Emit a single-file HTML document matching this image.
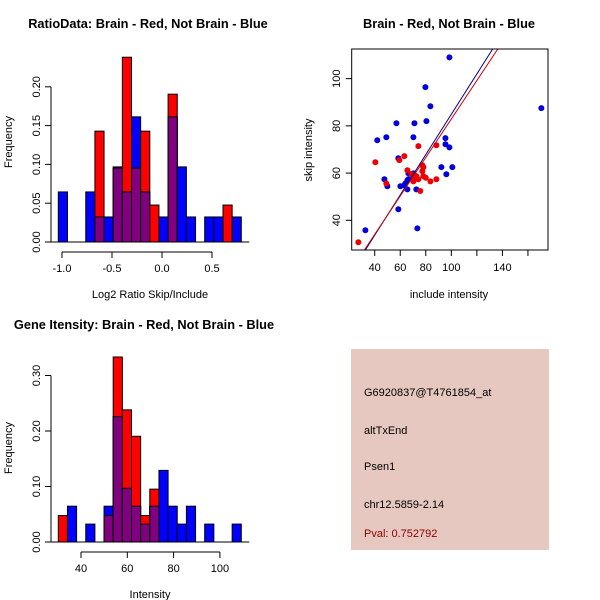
<!DOCTYPE html>
<html><head><meta charset="utf-8"><style>
body{margin:0;background:#fff}
svg{display:block;font-family:"Liberation Sans",sans-serif;font-size:11px}
.t{font-weight:bold;font-size:12.8px}
</style></head><body>
<svg id="s" width="600" height="600" xmlns="http://www.w3.org/2000/svg">
<text class="t" x="148" y="28" text-anchor="middle">RatioData: Brain - Red, Not Brain - Blue</text>
<text class="t" x="449" y="28" text-anchor="middle">Brain - Red, Not Brain - Blue</text>
<text class="t" x="144" y="329" text-anchor="middle">Gene Itensity: Brain - Red, Not Brain - Blue</text>
<text x="150" y="298" text-anchor="middle">Log2 Ratio Skip/Include</text>
<text x="449" y="298" text-anchor="middle">include intensity</text>
<text x="150" y="598" text-anchor="middle">Intensity</text>
<text transform="translate(12,142) rotate(-90)" text-anchor="middle">Frequency</text>
<text transform="translate(312,150) rotate(-90)" text-anchor="middle">skip intensity</text>
<text transform="translate(12,448) rotate(-90)" text-anchor="middle">Frequency</text>
<rect x="351" y="349" width="198" height="201" fill="#e6c8c0"/>
<text x="364" y="396">G6920837@T4761854_at</text>
<text x="364" y="434">altTxEnd</text>
<text x="364" y="470">Psen1</text>
<text x="364" y="508">chr12.5859-2.14</text>
<text x="364" y="537" fill="#8b0000">Pval: 0.752792</text>
</svg>
<script>
// Ratio histogram (counts per bin; blue n=31, red n=21)
const ratioBlue=[2,0,0,2,1,1,3,2,5,2,0,1,5,3,1,0,1,1,0,1];
const ratioRed=[0,0,0,0,3,0,2,5,2,3,1,0,4,0,0,0,0,0,1,0];
const ratioTicksX=[-1.0,-0.5,0.0,0.5];
const ratioTicksY=[0.00,0.05,0.10,0.15,0.20];
// Gene intensity histogram
const geneBlue=[0,2,0,1,0,2,7,3,2,1,2,4,2,1,2,0,1,0,0,1];
const geneRed=[1,0,0,0,0,1,7,5,4,1,2,0,0,0,0,0,0,0,0,0];
const geneTicksX=[40,60,80,100];
const geneTicksY=[0.00,0.10,0.20,0.30];
// Scatter
const blueX=[32.7,98.5,79.7,83.6,170.5,57,71.1,80.5,42,49.1,70.3,95.4,95.4,98.5,58.5,92.2,100.8,96.1,47.6,49.9,60.1,66.4,64,65.6,66.4,65.6,72.6,58.5,73.4,70.3,63.2];
const blueY=[35.8,109,96.4,88.3,87.5,81.1,81.1,82,73.9,75.2,75.2,74.8,72.2,70.9,66.3,62.5,62.5,59.5,57.4,54.4,54.4,59.9,55.6,56.9,57.4,53.1,53.1,44.7,36.6,59.9,54.8];
const redX=[27.2,40.5,59.3,63.2,74.2,88.3,49.1,65.6,68.8,77.3,77.3,78.1,78.1,72.6,74.2,70.3,75.7,83.6,88.3,71.8,80];
const redY=[30.7,64.6,65.5,67.2,71.4,71.8,55.6,61.2,59.5,60.8,63.3,62.5,58.7,58.7,57.4,56.5,52.4,56.5,57.4,57.8,58];
const blueFit=[-0.5,0.854]; // intercept, slope
const redFit=[1.4,0.815];
const scatterTicksX=[40,60,80,100,140];
const scatterTicksY=[40,60,80,100];

const S=document.getElementById('s');const NS='http://www.w3.org/2000/svg';
function el(t,a,p){const e=document.createElementNS(NS,t);for(const k in a)e.setAttribute(k,a[k]);(p||S).appendChild(e);return e;}
function txt(x,y,s,anchor,rot){const e=el('text',{x:x,y:y,'text-anchor':anchor});if(rot)e.setAttribute('transform','rotate(-90 '+x+' '+y+')');e.textContent=s;return e;}

function hist(blue,red,nb,nr,x0,bw,py0,yscale,ticksX,tx,ticksY,name,fx){
  for(let i=0;i<blue.length;i++){
    const x=x0+i*bw;const hb=blue[i]/nb, hr=red[i]/nr;
    if(hb>0){const r=el('rect',{x:x,y:py0-hb*yscale,width:bw,height:hb*yscale,fill:'#0000ff',stroke:'#000','stroke-width':1});
      }
    if(hr>0){const r=el('rect',{x:x,y:py0-hr*yscale,width:bw,height:hr*yscale,fill:'#ff0000',stroke:'#000','stroke-width':1});
      }
    const m=Math.min(hb,hr);
    if(m>0){const r=el('rect',{x:x,y:py0-m*yscale,width:bw,height:m*yscale,fill:'#800080',stroke:'#000','stroke-width':1});
      }
  }
  el('line',{x1:x0-8,x2:x0+blue.length*bw+8,y1:py0,y2:py0,stroke:'#000'});
  const ya=el('g',{});
  el('line',{x1:51,x2:51,y1:py0,y2:py0-ticksY[ticksY.length-1]*yscale,stroke:'#000'},ya);
  ticksY.forEach(v=>{const y=py0-v*yscale;el('line',{x1:45,x2:51,y1:y,y2:y,stroke:'#000'},ya);
    txt(40,y,v.toFixed(2),'middle',true);});
  const xa=el('g',{});
  const ay=py0+10;
  el('line',{x1:fx(ticksX[0]),x2:fx(ticksX[ticksX.length-1]),y1:ay,y2:ay,stroke:'#000'},xa);
  ticksX.forEach(v=>{const x=fx(v);el('line',{x1:x,x2:x,y1:ay,y2:ay+6,stroke:'#000'},xa);txt(x,ay+20,tx(v),'middle');});
}
hist(ratioBlue,ratioRed,31,21,58.3,9.15,242,776,ratioTicksX,v=>v.toFixed(1),ratioTicksY,'ratio',v=>162+v*100);
hist(geneBlue,geneRed,31,21,58.3,9.15,542,555,geneTicksX,v=>String(v),geneTicksY,'gene',v=>81+(v-40)*2.315);

const sx=v=>374.7+(v-40)*1.277, sy=v=>220.3-(v-40)*2.361;
const box={x1:351.7,x2:548,y1:49,y2:250};
const cp=el('clipPath',{id:'cp'});el('rect',{x:box.x1,y:box.y1,width:box.x2-box.x1,height:box.y2-box.y1},cp);
const pts=el('g',{'clip-path':'url(#cp)'});
blueX.forEach((v,i)=>{const c=el('circle',{cx:sx(v),cy:sy(blueY[i]),r:3,fill:'#0000dd'},pts);
  });
redX.forEach((v,i)=>{const c=el('circle',{cx:sx(v),cy:sy(redY[i]),r:3,fill:'#ee0000'},pts);
  });
[[blueFit,'#000099','blue-fit-line'],[redFit,'#cc0000','red-fit-line']].forEach(([f,c,n])=>{
  const l=el('line',{x1:sx(0),y1:sy(f[0]),x2:sx(200),y2:sy(f[0]+f[1]*200),stroke:c,'stroke-width':1,'clip-path':'url(#cp)'});
  });
const fr=el('rect',{x:box.x1,y:box.y1,width:box.x2-box.x1,height:box.y2-box.y1,fill:'none',stroke:'#000'});

const sxa=el('g',{});
[40,60,80,100,120,140,160].forEach(v=>el('line',{x1:sx(v),x2:sx(v),y1:box.y2,y2:box.y2+6,stroke:'#000'},sxa));
scatterTicksX.forEach(v=>txt(sx(v),box.y2+21,String(v),'middle'));
const sya=el('g',{});
scatterTicksY.forEach(v=>{el('line',{x1:box.x1-6,x2:box.x1,y1:sy(v),y2:sy(v),stroke:'#000'},sya);txt(340,sy(v),String(v),'middle',true);});
</script>
</body></html>
